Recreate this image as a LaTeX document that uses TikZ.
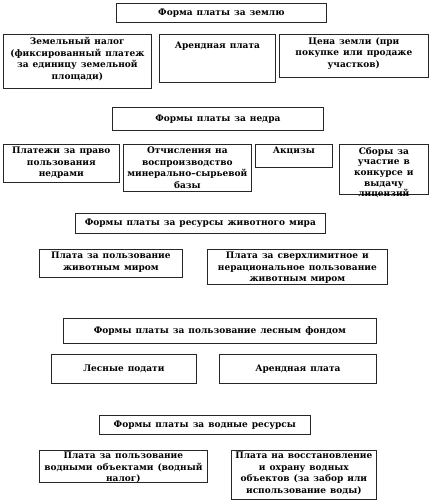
\documentclass[tikz,border=0pt]{standalone}
\usepackage{fontspec}
\setmainfont{DejaVu Serif}
\newcommand{\boxfont}{\fontsize{9}{11.5}\selectfont\bfseries\spaceskip=4pt plus 1pt\relax}
\newcommand{\tightfont}{\fontsize{9}{10.7}\selectfont\bfseries\spaceskip=4pt plus 1pt\relax}
\begin{document}
\begin{tikzpicture}[x=1pt,y=-1pt,
  frame/.style={draw=black!85,line width=0.7pt,fill=white,anchor=north west,inner sep=0pt},
  txt/.style={anchor=north,align=center,inner sep=0pt,font=\boxfont},
  ttl/.style={align=center,inner sep=0pt,font=\boxfont}]
\useasboundingbox (0,0) rectangle (431,502);
% ---------- Land
\node[frame,minimum width=210pt,minimum height=19pt] (L0) at (116,3) {};
\node[ttl] (L0t) at (L0.center) {Форма платы за землю};
\node[frame,minimum width=148pt,minimum height=54pt] (L1) at (3,34) {};
\node[txt] (L1t) at ([yshift=-3pt]L1.north) {Земельный налог\\(фиксированный платеж\\за единицу земельной\\площади)};
\node[frame,minimum width=116pt,minimum height=48pt] (L2) at (159,34) {};
\node[txt] (L2t) at ([yshift=-8pt]L2.north) {Арендная плата};
\node[frame,minimum width=149pt,minimum height=43pt] (L3) at (279,34) {};
\node[txt] (L3t) at ([yshift=-3pt]L3.north) {Цена земли (при\\покупке или продаже\\участков)};
% ---------- Subsoil
\node[frame,minimum width=211pt,minimum height=23pt] (N0) at (112,107) {};
\node[ttl] (N0t) at (N0.center) {Формы платы за недра};
\node[frame,minimum width=116pt,minimum height=38pt] (N1) at (3,144) {};
\node[txt] (N1t) at ([yshift=-3pt]N1.north) {Платежи за право\\пользования\\недрами};
\node[frame,minimum width=128pt,minimum height=47pt] (N2) at (123,144) {};
\node[txt] (N2t) at ([yshift=-3pt]N2.north) {Отчисления на\\воспроизводство\\минерально–сырьевой\\базы};
\node[frame,minimum width=77pt,minimum height=23pt] (N3) at (255,144) {};
\node[txt] (N3t) at ([yshift=-3pt]N3.north) {Акцизы};
\node[frame,minimum width=89pt,minimum height=50pt] (N4) at (339,144) {};
\node[txt,font=\tightfont] (N4t) at ([yshift=-3pt]N4.north) {Сборы за\\участие в\\конкурсе и\\выдачу\\лицензий};
% ---------- Fauna
\node[frame,minimum width=250pt,minimum height=20pt] (F0) at (75,213) {};
\node[ttl] (F0t) at (F0.center) {Формы платы за ресурсы животного мира};
\node[frame,minimum width=143pt,minimum height=28pt] (F1) at (39,249) {};
\node[txt] (F1t) at ([yshift=-3pt]F1.north) {Плата за пользование\\животным миром};
\node[frame,minimum width=180pt,minimum height=35pt] (F2) at (207,249) {};
\node[txt] (F2t) at ([yshift=-3pt]F2.north) {Плата за сверхлимитное и\\нерациональное пользование\\животным миром};
% ---------- Forest
\node[frame,minimum width=313pt,minimum height=25pt] (W0) at (63,318) {};
\node[ttl] (W0t) at (W0.center) {Формы платы за пользование лесным фондом};
\node[frame,minimum width=145pt,minimum height=29pt] (W1) at (51,354) {};
\node[ttl] (W1t) at (W1.center) {Лесные подати};
\node[frame,minimum width=157pt,minimum height=29pt] (W2) at (219,354) {};
\node[ttl] (W2t) at (W2.center) {Арендная плата};
% ---------- Water
\node[frame,minimum width=211pt,minimum height=19pt] (V0) at (99,415) {};
\node[ttl] (V0t) at (V0.center) {Формы платы за водные ресурсы};
\node[frame,minimum width=168pt,minimum height=32pt] (V1) at (39,450) {};
\node[txt] (V1t) at ([yshift=-2pt]V1.north) {Плата за пользование\\водными объектами (водный\\налог)};
\node[frame,minimum width=145pt,minimum height=49pt] (V2) at (231,450) {};
\node[txt] (V2t) at ([yshift=-2pt]V2.north) {Плата на восстановление\\и охрану водных\\объектов (за забор или\\использование воды)};
\end{tikzpicture}
\end{document}
